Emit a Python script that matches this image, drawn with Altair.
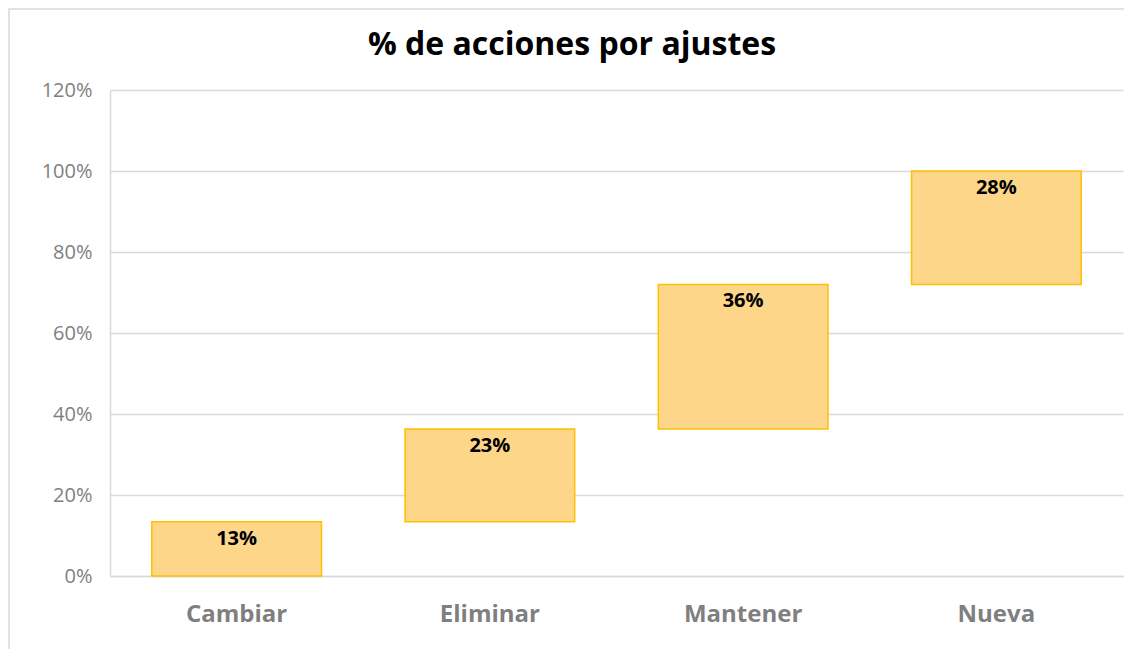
import altair as alt
import pandas as pd

categories = ["Cambiar", "Eliminar", "Mantener", "Nueva"]
increments = [13.4, 22.9, 35.7, 28.0]
labels = ["13%", "23%", "36%", "28%"]
y_ticks = [0, 20, 40, 60, 80, 100, 120]
title_text = "% de acciones por ajustes"

starts, ends = [], []
acc = 0.0
for v in increments:
    starts.append(acc)
    acc += v
    ends.append(acc)

df = pd.DataFrame({"cat": categories, "start": starts, "end": ends, "label": labels})

FONT = "Open Sans"
W, H = 1013, 486

x_enc = alt.X("cat:N", sort=categories, title=None,
              scale=alt.Scale(paddingInner=0.33, paddingOuter=0.165),
              axis=alt.Axis(labelAngle=0, labelFontSize=24, labelFontWeight="bold",
                            labelColor="#7f7f7f", labelFont=FONT, ticks=False,
                            labelPadding=26, domainColor="#d9d9d9", domainWidth=1.5,
                            grid=False))

y_scale = alt.Scale(domain=[0, 120], nice=False, zero=True)

bars = alt.Chart(df).mark_bar(color="#FDD68A", stroke="#FFC000", strokeWidth=1.5).encode(
    x=x_enc,
    y=alt.Y("start:Q", scale=y_scale, title=None,
            axis=alt.Axis(values=y_ticks, labelExpr="datum.value + '%'", labelFontSize=20,
                          labelColor="#7f7f7f", labelFont=FONT, ticks=False, labelPadding=18,
                          domainColor="#d9d9d9", domainWidth=1.5,
                          gridColor="#d9d9d9", gridWidth=1.5)),
    y2="end:Q",
)

text = alt.Chart(df).mark_text(font=FONT, fontSize=20, fontWeight="bold", color="#000000",
                               baseline="alphabetic", dy=23).encode(
    x=alt.X("cat:N", sort=categories),
    y=alt.Y("end:Q", scale=y_scale),
    text="label:N",
)

title = alt.Chart(pd.DataFrame({"t": [title_text]})).mark_text(
    font=FONT, fontSize=32, fontWeight="bold", color="#000000", baseline="alphabetic"
).encode(x=alt.value(462), y=alt.value(-35), text="t:N")

left_border = alt.Chart(pd.DataFrame({"a": [0]})).mark_rule(
    color="#d9d9d9", strokeWidth=1.5
).encode(x=alt.value(-101), y=alt.value(-81.5), y2=alt.value(559))

top_border = alt.Chart(pd.DataFrame({"a": [0]})).mark_rule(
    color="#d9d9d9", strokeWidth=1.5
).encode(x=alt.value(-101.5), x2=alt.value(1014), y=alt.value(-81))

chart = alt.layer(left_border, top_border, bars, text, title).properties(
    width=W, height=H,
    background="white",
    autosize=alt.AutoSizeParams(type="none"),
    padding={"left": 102, "top": 82, "right": 1, "bottom": 73},
).configure_view(stroke=None, strokeWidth=0)

chart.save("out.html", embed_options={"renderer": "svg", "actions": False})
